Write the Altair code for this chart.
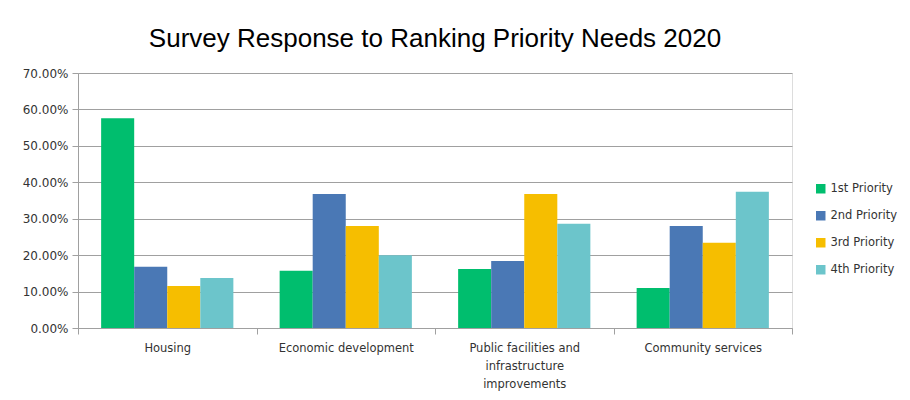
import altair as alt
import pandas as pd

categories = ["Housing", "Economic development",
              "Public facilities and infrastructure improvements", "Community services"]
priorities = ["1st Priority", "2nd Priority", "3rd Priority", "4th Priority"]
first = [0.576, 0.157, 0.162, 0.110]
second = [0.168, 0.368, 0.184, 0.280]
third = [0.115, 0.280, 0.368, 0.234]
fourth = [0.137, 0.200, 0.286, 0.374]
colors = ["#00BE6E", "#4A78B5", "#F6BE00", "#6CC5CB"]
y_ticks = [0, 0.1, 0.2, 0.3, 0.4, 0.5, 0.6, 0.7]

rows = []
for p, vals in zip(priorities, [first, second, third, fourth]):
    for c, v in zip(categories, vals):
        rows.append({"Category": c, "Priority": p, "Value": v})
df = pd.DataFrame(rows)

label_expr = ("datum.value == 'Public facilities and infrastructure improvements' ? "
              "['Public facilities and', 'infrastructure', 'improvements'] : datum.value")

chart = alt.Chart(df).mark_bar().encode(
    x=alt.X("Category:N", sort=categories, title=None,
            scale=alt.Scale(paddingInner=0, paddingOuter=0),
            axis=alt.Axis(labelAngle=0, labelExpr=label_expr, tickBand="extent",
                          domainColor="#a0a0a0", tickColor="#a0a0a0", tickSize=6,
                          labelFont="DejaVu Sans", labelFontSize=11.5, labelColor="#333333",
                          labelPadding=8, labelLineHeight=18)),
    xOffset=alt.XOffset("Priority:N", sort=priorities,
                        scale=alt.Scale(paddingInner=0, paddingOuter=0.7)),
    y=alt.Y("Value:Q", title=None,
            scale=alt.Scale(domain=[0, 0.7]),
            axis=alt.Axis(values=y_ticks, format=".2%", gridColor="#a0a0a0",
                          domainColor="#a0a0a0", tickColor="#a0a0a0", tickSize=6,
                          labelFont="DejaVu Sans", labelFontSize=12, labelColor="#333333",
                          labelPadding=4)),
    color=alt.Color("Priority:N", sort=priorities,
                    scale=alt.Scale(domain=priorities, range=colors),
                    legend=alt.Legend(title=None, orient="none", legendX=737, legendY=110,
                                      symbolType="square", symbolSize=90, symbolStrokeWidth=0,
                                      labelFont="DejaVu Sans", labelFontSize=11.5,
                                      labelColor="#333333", rowPadding=14)),
).properties(
    width=714, height=255,
    padding={"left": 14, "top": 18, "right": 5, "bottom": 5},
    title=alt.TitleParams("Survey Response to Ranking Priority Needs 2020",
                          font="Liberation Sans", fontSize=26, fontWeight="normal",
                          color="#000000", anchor="middle", offset=15),
).configure_view(stroke=None).configure(background="white")

chart.save("out.html", embed_options={"renderer": "svg", "actions": False})
